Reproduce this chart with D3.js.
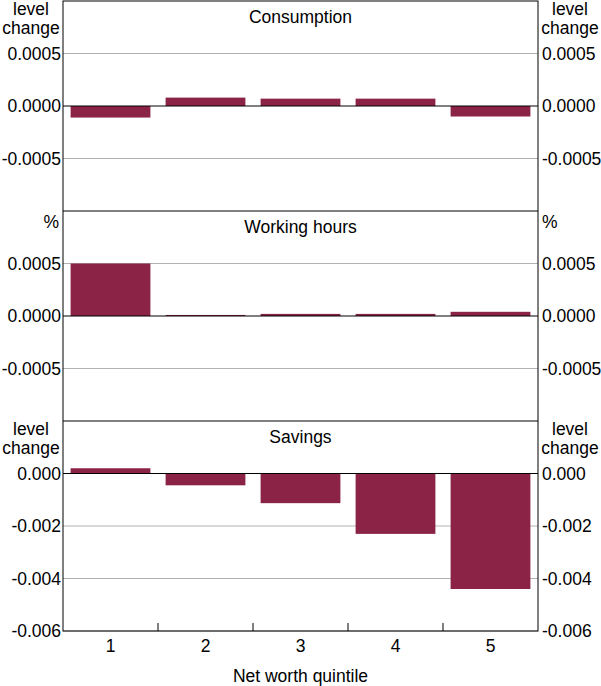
<!DOCTYPE html>
<html><head><meta charset="utf-8">
<script src="https://cdn.jsdelivr.net/npm/d3@7"></script>
<style>body{margin:0;background:#fff}svg{display:block;font-family:"Liberation Sans",Arial,sans-serif}</style>
</head><body><svg id="c" width="601" height="686"></svg>
<script>
const categories = ["1","2","3","4","5"];
const consumption = [-0.00011, 0.00008, 0.00007, 0.00007, -0.0001];
const workingHours = [0.0005, 0.00001, 0.00002, 0.00002, 0.00004];
const savings = [0.0002, -0.00045, -0.00113, -0.0023, -0.0044];
const panelTitles = ["Consumption","Working hours","Savings"];
const panelUnits = [["level","change"],["%"],["level","change"]];
const panelDomains = [[-0.001,0.001],[-0.001,0.001],[-0.006,0.002]];
const panelTicks = [[-0.0005,0,0.0005],[-0.0005,0,0.0005],[-0.006,-0.004,-0.002,0]];
const tickFormats = [".4f",".4f",".3f"];
const xTitle = "Net worth quintile";
const series = [consumption, workingHours, savings];

const FS = 17.5;
const svg = d3.select("#c");
const L = 63, R = 538, top0 = 1, ph = 210;
const color = "#8b2346";
const x = d3.scaleBand().domain(categories).range([L,R]).paddingInner(0.16).paddingOuter(0.08);

series.forEach((vals,i)=>{
  const t = top0 + i*ph, b = t + ph;
  const y = d3.scaleLinear().domain(panelDomains[i]).range([b,t]);
  const g = svg.append("g");
  panelTicks[i].filter(v=>v!==0).forEach(v=>{
    g.append("line").attr("x1",L).attr("x2",R).attr("y1",y(v)).attr("y2",y(v))
      .attr("stroke","#b3b3b3").attr("stroke-width",1);
  });
  g.selectAll("rect").data(vals).join("rect")
    .attr("x",(d,j)=>x(categories[j]))
    .attr("width",x.bandwidth())
    .attr("y",d=>y(Math.max(0,d)))
    .attr("height",d=>Math.abs(y(d)-y(0)))
    .attr("fill",color);
  g.append("line").attr("x1",L).attr("x2",R).attr("y1",y(0)).attr("y2",y(0))
    .attr("stroke","#000").attr("stroke-width",1);
  const f = d3.format(tickFormats[i]);
  const fmt = v => f(v).replace("\u2212","-");
  const la = d3.axisLeft(y).tickValues(panelTicks[i]).tickSize(0).tickPadding(2).tickFormat(fmt);
  const ra = d3.axisRight(y).tickValues(panelTicks[i]).tickSize(0).tickPadding(4).tickFormat(fmt);
  const gl = svg.append("g").attr("transform",`translate(${L},0)`).call(la);
  const gr = svg.append("g").attr("transform",`translate(${R},0)`).call(ra);
  [gl,gr].forEach(a=>{a.select(".domain").remove(); a.selectAll("text").attr("font-size",FS).attr("fill","#000").attr("font-family","Liberation Sans, Arial, sans-serif");});
  svg.append("text").attr("x",(L+R)/2).attr("y",t+22).attr("text-anchor","middle")
    .attr("font-size",FS).text(panelTitles[i]);
  const u = panelUnits[i];
  if(u.length===2){
    u.forEach((s,k)=>{
      svg.append("text").attr("x",31).attr("y",t+14+k*19).attr("text-anchor","middle").attr("font-size",FS).text(s);
      svg.append("text").attr("x",570).attr("y",t+14+k*19).attr("text-anchor","middle").attr("font-size",FS).text(s);
    });
  } else {
    svg.append("text").attr("x",59).attr("y",t+17).attr("text-anchor","end").attr("font-size",FS).text(u[0]);
    svg.append("text").attr("x",542).attr("y",t+17).attr("text-anchor","start").attr("font-size",FS).text(u[0]);
  }
});
const bot = top0 + 3*ph;
svg.append("rect").attr("x",L).attr("y",top0).attr("width",R-L).attr("height",bot-top0)
  .attr("fill","none").attr("stroke","#000").attr("stroke-width",1);
[1,2].forEach(k=>svg.append("line").attr("x1",L).attr("x2",R).attr("y1",top0+k*ph).attr("y2",top0+k*ph).attr("stroke","#000"));
const xa = d3.axisBottom(x).tickSize(0).tickPadding(9);
const gx = svg.append("g").attr("transform",`translate(0,${bot})`).call(xa);
gx.select(".domain").remove();
gx.selectAll("text").attr("font-size",FS).attr("fill","#000").attr("font-family","Liberation Sans, Arial, sans-serif");
const step = x.step();
categories.slice(1).forEach(c=>{
  const xx = x(c) - x.paddingInner()*step/2;
  svg.append("line").attr("x1",xx).attr("x2",xx).attr("y1",bot).attr("y2",bot-8).attr("stroke","#000");
});
svg.append("text").attr("x",(L+R)/2).attr("y",682).attr("text-anchor","middle").attr("font-size",FS).text(xTitle);
</script></body></html>
